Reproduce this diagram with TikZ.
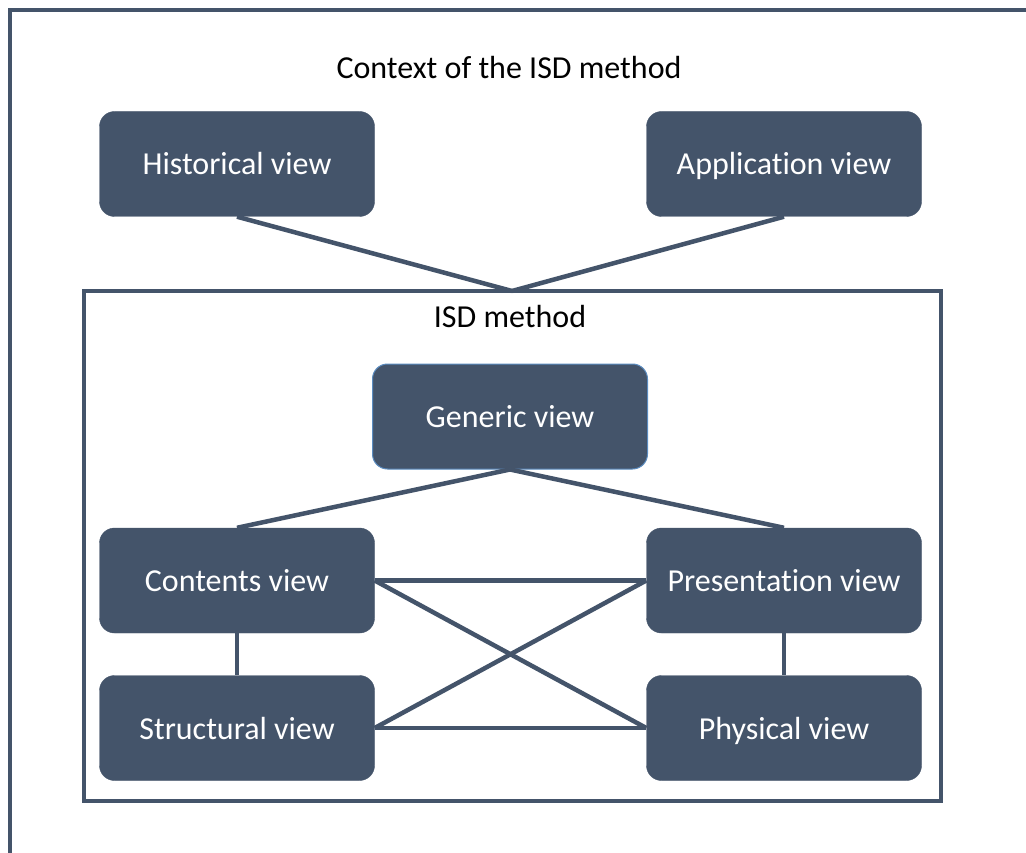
\documentclass[tikz,border=0pt]{standalone}
\usepackage{fontspec}
\setmainfont{Carlito}[Ligatures=NoCommon]
\definecolor{slate}{HTML}{44546A}
\definecolor{edgeblue}{HTML}{5B8CC0}
\tikzset{
  viewbox/.style={rectangle, rounded corners=15pt, fill=slate, draw=slate,
    minimum width=275pt, minimum height=105pt, text=white,
    font=\fontsize{32}{36}\selectfont, inner sep=0pt,
    text height=22pt, text depth=0pt},
  link/.style={draw=slate, line width=4.5pt},
  frameline/.style={draw=slate, line width=4pt},
  caption/.style={font=\fontsize{32}{36}\selectfont, text=black, inner sep=0pt,
    text height=22pt, text depth=0pt}
}
\begin{document}
\begin{tikzpicture}[x=1pt, y=-1pt]
  \useasboundingbox (0,0) rectangle (1026,853);
  \clip (0,0) rectangle (1026,853);
  \fill[white] (0,0) rectangle (1026,853);

  % outer frame (runs off the page at right and bottom)
  \draw[frameline] (10,870) -- (10,10) -- (1040,10);

  % context level
  \node[caption] (ctx) at (509,68) {Context of the ISD method};
  \node[viewbox] (hist) at (237,164) {Historical view};
  \node[viewbox] (appl) at (784,164) {Application view};

  % ISD method frame
  \draw[frameline] (84,291) rectangle (941,801);
  \coordinate (isdtop) at (512,291);
  \node[caption] (isd) at (510,316) {ISD method};

  % views inside the method
  \node[viewbox, draw=edgeblue, line width=1pt] (gen) at (510,416.5) {Generic view};
  \node[viewbox] (cont) at (237,580.5) {Contents view};
  \node[viewbox] (pres) at (784,580.5) {Presentation view};
  \node[viewbox] (struc) at (237,728) {Structural view};
  \node[viewbox] (phys) at (784,728) {Physical view};

  % connectors
  \draw[link] (hist.south) -- (isdtop);
  \draw[link] (appl.south) -- (isdtop);
  \draw[link] (gen.south) -- (cont.north);
  \draw[link] (gen.south) -- (pres.north);
  \draw[link] (cont.east) -- (pres.west);
  \draw[link] (struc.east) -- (phys.west);
  \draw[link] (cont.east) -- (phys.west);
  \draw[link] (pres.west) -- (struc.east);
  \draw[link] (cont.south) -- (struc.north);
  \draw[link] (pres.south) -- (phys.north);
\end{tikzpicture}
\end{document}
